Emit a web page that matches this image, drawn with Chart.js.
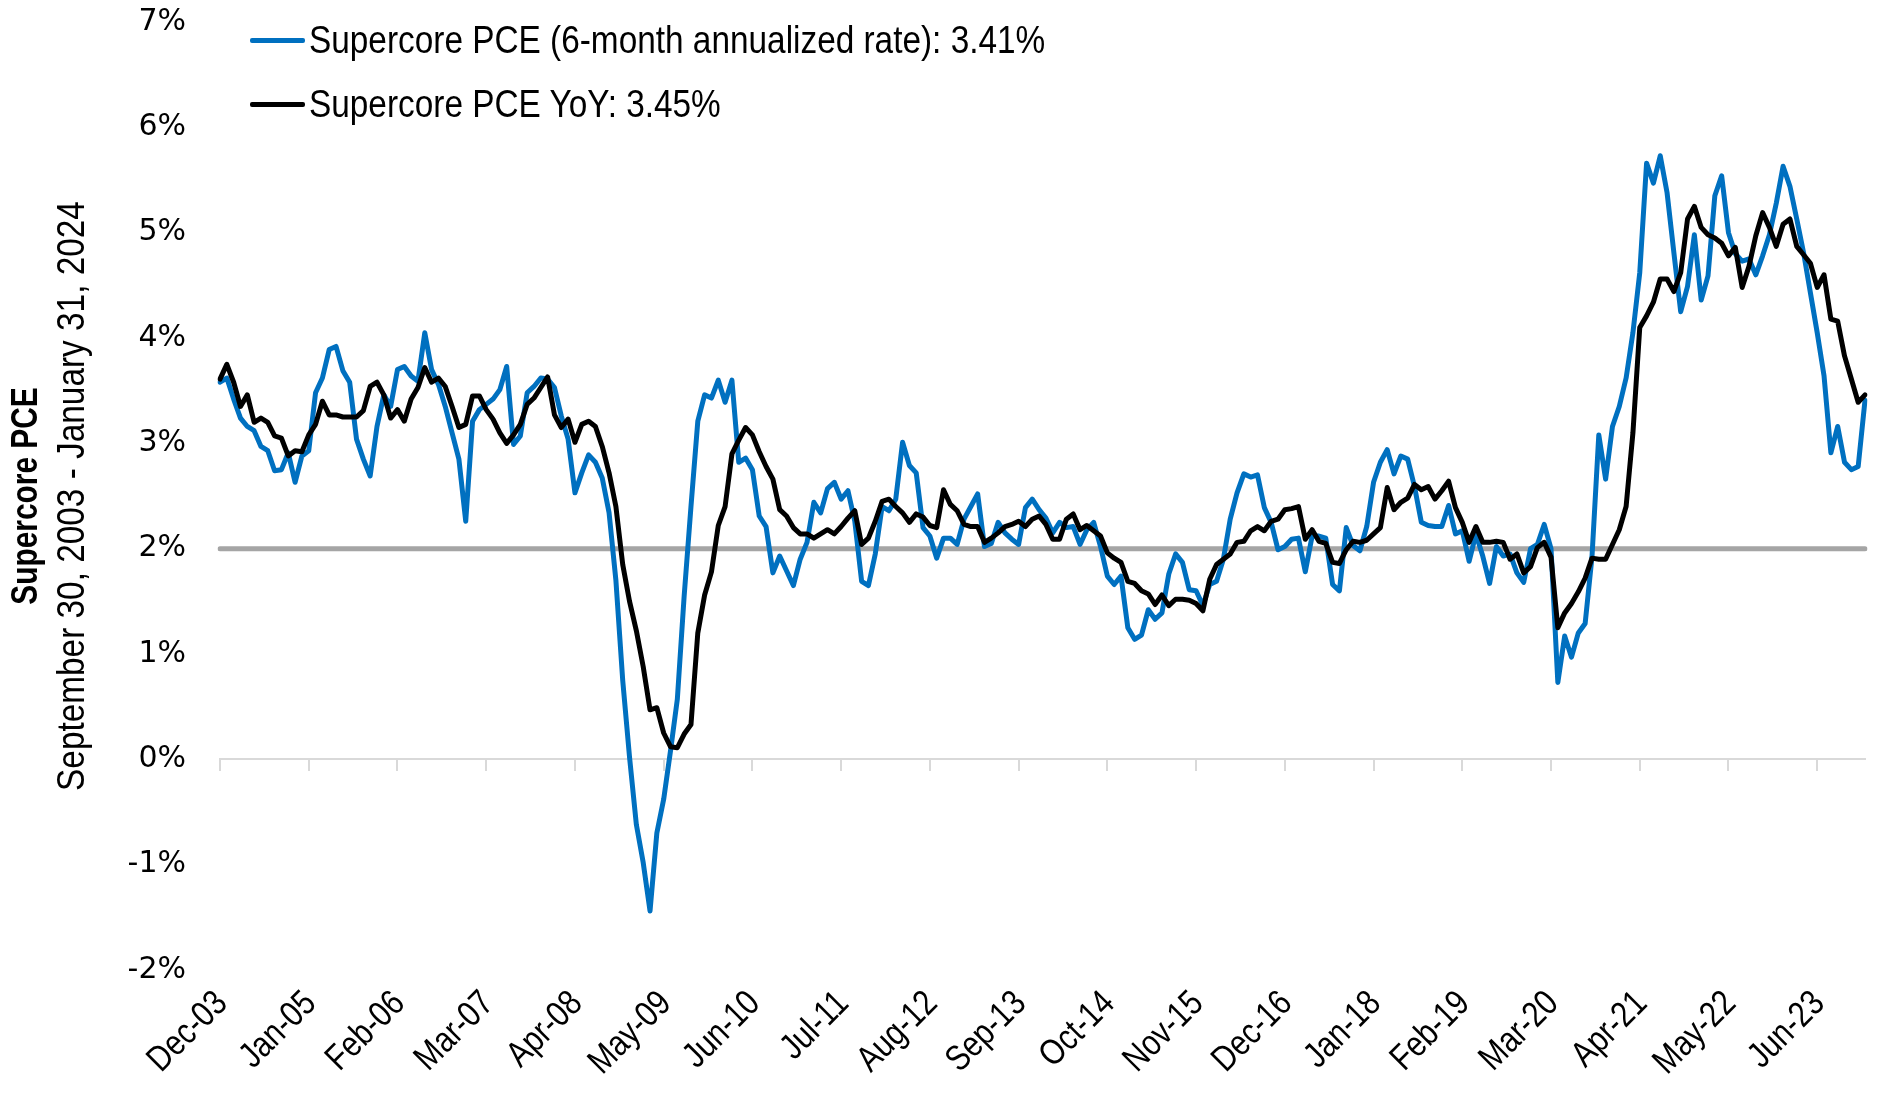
<!DOCTYPE html>
<html>
<head>
<meta charset="utf-8">
<title>Supercore PCE</title>
<script src="https://cdn.jsdelivr.net/npm/chart.js@4.4.1/dist/chart.umd.min.js"></script>
<style>
  html, body { margin: 0; padding: 0; background: #fff; }
  #wrap { position: relative; width: 1883px; height: 1103px; }
  #legend { position: absolute; left: 250px; top: 0; font-family: "Liberation Sans", sans-serif; font-size: 38px; color: #000; }
  .item { position: absolute; left: 0; display: flex; align-items: center; white-space: nowrap; height: 50px; }
  .swatch { width: 55px; height: 5px; margin-right: 4px; border-radius: 2px; flex: none; }
  .txt { display: inline-block; transform: scaleX(0.878); transform-origin: left center; }
</style>
</head>
<body>
<div id="wrap">
  <canvas id="chart" width="1883" height="1103"></canvas>
  <div id="legend"></div>
</div>
<script>
// ---- data (monthly, Dec-03 .. Jan-24), one line per calendar year ----
const sixMonthAnnualized = [
  3.58,
  3.62, 3.42, 3.24, 3.16, 3.12, 2.97, 2.93, 2.74, 2.75, 2.91, 2.63, 2.88,
  2.93, 3.48, 3.62, 3.89, 3.92, 3.69, 3.58, 3.04, 2.85, 2.69, 3.16, 3.46,
  3.35, 3.70, 3.73, 3.64, 3.59, 4.05, 3.70, 3.56, 3.35, 3.10, 2.85, 2.26,
  3.21, 3.32, 3.37, 3.42, 3.51, 3.73, 2.99, 3.07, 3.48, 3.54, 3.62, 3.61,
  3.53, 3.26, 3.04, 2.53, 2.72, 2.89, 2.82, 2.67, 2.34, 1.70, 0.75, 0.02,
  -0.62, -0.98, -1.44, -0.70, -0.38, 0.08, 0.57, 1.55, 2.40, 3.21, 3.46, 3.43,
  3.60, 3.39, 3.60, 2.82, 2.86, 2.75, 2.31, 2.21, 1.77, 1.93, 1.79, 1.65,
  1.90, 2.06, 2.44, 2.34, 2.57, 2.63, 2.47, 2.55, 2.26, 1.69, 1.65, 1.95,
  2.40, 2.36, 2.47, 3.01, 2.79, 2.72, 2.20, 2.12, 1.91, 2.10, 2.10, 2.04,
  2.28, 2.40, 2.52, 2.02, 2.05, 2.25, 2.15, 2.09, 2.04, 2.39, 2.47, 2.37,
  2.29, 2.15, 2.25, 2.20, 2.21, 2.04, 2.18, 2.25, 2.02, 1.74, 1.66, 1.74,
  1.25, 1.14, 1.18, 1.42, 1.33, 1.39, 1.76, 1.95, 1.87, 1.61, 1.60, 1.46,
  1.66, 1.69, 1.90, 2.28, 2.53, 2.71, 2.68, 2.70, 2.39, 2.25, 1.99, 2.02,
  2.09, 2.10, 1.78, 2.12, 2.12, 2.10, 1.66, 1.60, 2.20, 2.03, 1.98, 2.21,
  2.63, 2.82, 2.94, 2.71, 2.88, 2.85, 2.59, 2.25, 2.22, 2.21, 2.21, 2.41,
  2.14, 2.17, 1.88, 2.14, 1.93, 1.67, 2.02, 1.93, 1.95, 1.77, 1.68, 2.00,
  2.04, 2.23, 2.00, 0.73, 1.17, 0.97, 1.20, 1.29, 1.92, 3.08, 2.66, 3.16,
  3.35, 3.62, 4.05, 4.62, 5.66, 5.47, 5.73, 5.38, 4.81, 4.25, 4.49, 4.98,
  4.36, 4.59, 5.35, 5.54, 5.00, 4.80, 4.73, 4.75, 4.60, 4.78, 4.98, 5.28,
  5.63, 5.44, 5.13, 4.81, 4.43, 4.05, 3.64, 2.91, 3.16, 2.82, 2.75, 2.78,
  3.41
];

const yearOverYear = [
  3.61,
  3.75, 3.58, 3.35, 3.46, 3.20, 3.24, 3.20, 3.07, 3.05, 2.88, 2.93, 2.92,
  3.08, 3.18, 3.40, 3.27, 3.27, 3.25, 3.25, 3.25, 3.31, 3.54, 3.58, 3.46,
  3.24, 3.32, 3.21, 3.42, 3.53, 3.72, 3.58, 3.62, 3.54, 3.35, 3.15, 3.18,
  3.45, 3.45, 3.32, 3.23, 3.10, 3.00, 3.08, 3.18, 3.37, 3.43, 3.53, 3.63,
  3.27, 3.15, 3.23, 3.01, 3.18, 3.21, 3.16, 2.97, 2.72, 2.40, 1.85, 1.50,
  1.22, 0.88, 0.47, 0.49, 0.25, 0.12, 0.11, 0.24, 0.33, 1.20, 1.56, 1.78,
  2.22, 2.40, 2.90, 3.03, 3.15, 3.08, 2.92, 2.78, 2.66, 2.37, 2.31, 2.20,
  2.14, 2.14, 2.10, 2.14, 2.18, 2.14, 2.21, 2.29, 2.36, 2.04, 2.10, 2.26,
  2.45, 2.47, 2.40, 2.34, 2.25, 2.33, 2.30, 2.22, 2.20, 2.56, 2.42, 2.36,
  2.23, 2.21, 2.21, 2.06, 2.10, 2.15, 2.21, 2.23, 2.26, 2.21, 2.28, 2.31,
  2.23, 2.09, 2.09, 2.28, 2.33, 2.18, 2.22, 2.17, 2.12, 1.96, 1.91, 1.87,
  1.69, 1.67, 1.60, 1.57, 1.47, 1.56, 1.46, 1.52, 1.52, 1.51, 1.48, 1.41,
  1.71, 1.85, 1.90, 1.95, 2.06, 2.07, 2.17, 2.21, 2.17, 2.26, 2.28, 2.37,
  2.38, 2.40, 2.09, 2.18, 2.07, 2.05, 1.87, 1.86, 1.99, 2.07, 2.06, 2.08,
  2.14, 2.20, 2.58, 2.37, 2.44, 2.48, 2.61, 2.56, 2.59, 2.47, 2.55, 2.64,
  2.39, 2.25, 2.06, 2.21, 2.06, 2.06, 2.07, 2.06, 1.90, 1.95, 1.77, 1.83,
  2.01, 2.06, 1.92, 1.25, 1.39, 1.48, 1.59, 1.72, 1.91, 1.90, 1.90, 2.04,
  2.18, 2.40, 3.10, 4.10, 4.21, 4.34, 4.56, 4.56, 4.44, 4.62, 5.13, 5.25,
  5.05, 4.98, 4.95, 4.90, 4.78, 4.86, 4.48, 4.68, 4.97, 5.19, 5.05, 4.87,
  5.08, 5.13, 4.87, 4.79, 4.71, 4.48, 4.60, 4.18, 4.16, 3.83, 3.61, 3.39,
  3.46
];

const tickLabels = ["Dec-03", "Jan-05", "Feb-06", "Mar-07", "Apr-08", "May-09", "Jun-10",
  "Jul-11", "Aug-12", "Sep-13", "Oct-14", "Nov-15", "Dec-16", "Jan-18", "Feb-19",
  "Mar-20", "Apr-21", "May-22", "Jun-23"];

const targetRate = 2;
const seriesNames = ["Supercore PCE (6-month annualized rate): 3.41%", "Supercore PCE YoY: 3.45%"];
const yTitleMain = "Supercore PCE";
const yTitleSub = "September 30, 2003 - January 31, 2024";

// month categories Dec-03 .. Jan-24
const monthNames = ["Jan","Feb","Mar","Apr","May","Jun","Jul","Aug","Sep","Oct","Nov","Dec"];
const labels = [];
for (let i = 0; i < yearOverYear.length; i++) {
  const m = (11 + i) % 12;
  const y = 2003 + Math.floor((11 + i) / 12);
  labels.push(monthNames[m] + "-" + String(y % 100).padStart(2, "0"));
}

const SANS = '"Liberation Sans", sans-serif';

// y-axis title: two lines, bold + regular, squeezed a little to look like a narrow face
const yTitlePlugin = {
  id: "yTitle",
  afterDraw(chart) {
    const { ctx, chartArea } = chart;
    const cy = (chartArea.top + chartArea.bottom) / 2;
    ctx.save();
    ctx.fillStyle = "#000";
    ctx.textAlign = "center";
    ctx.textBaseline = "middle";
    ctx.translate(27, cy);
    ctx.rotate(-Math.PI / 2);
    ctx.save();
    ctx.scale(0.83, 1);
    ctx.font = "bold 36px " + SANS;
    ctx.fillText(yTitleMain, 0, 0);
    ctx.restore();
    ctx.scale(0.878, 1);
    ctx.font = "38px " + SANS;
    ctx.fillText(yTitleSub, 0, 47);
    ctx.restore();
  }
};

// x tick labels, 45 degrees, placed through the x scale
const xLabelPlugin = {
  id: "xLabels",
  afterDraw(chart) {
    const { ctx, chartArea } = chart;
    const xs = chart.scales.x;
    ctx.save();
    ctx.fillStyle = "#000";
    ctx.font = "36px " + SANS;
    ctx.textAlign = "right";
    ctx.textBaseline = "middle";
    tickLabels.forEach((l) => {
      const px = xs.getPixelForValue(labels.indexOf(l));
      ctx.save();
      ctx.translate(px + 2, chartArea.bottom + 28);
      ctx.rotate(-Math.PI / 4);
      ctx.scale(0.83, 1);
      ctx.fillText(l, 0, 0);
      ctx.restore();
    });
    ctx.restore();
  }
};

const chart = new Chart(document.getElementById("chart").getContext("2d"), {
  type: "line",
  data: {
    labels: labels,
    datasets: [
      {
        label: seriesNames[0],
        data: sixMonthAnnualized,
        borderColor: "#0070C0",
        borderWidth: 5,
        order: 2
      },
      {
        label: seriesNames[1],
        data: yearOverYear,
        borderColor: "#000000",
        borderWidth: 5,
        order: 1
      },
      {
        label: "2%",
        data: [{ x: labels[0], y: targetRate }, { x: labels[labels.length - 1], y: targetRate }],
        borderColor: "#A5A5A5",
        borderWidth: 5,
        borderCapStyle: "round",
        order: 3
      }
    ]
  },
  options: {
    responsive: false,
    animation: false,
    devicePixelRatio: 1,
    layout: { padding: { left: 0, right: 18, top: 22, bottom: 0 } },
    elements: {
      point: { radius: 0 },
      line: { tension: 0, borderJoinStyle: "round", borderCapStyle: "round", fill: false }
    },
    plugins: {
      legend: { display: false },
      tooltip: { enabled: false }
    },
    scales: {
      x: {
        type: "category",
        offset: false,
        grid: { display: false },
        border: { display: false },
        ticks: { display: false },
        afterFit(scale) { scale.height = 133; }
      },
      x2: {
        type: "category",
        axis: "x",
        offset: false,
        position: { y: 0 },
        border: { display: true, color: "#D9D9D9", width: 2 },
        grid: {
          drawOnChartArea: false,
          drawTicks: true,
          tickLength: 11,
          lineWidth: 2,
          color: (c) => tickLabels.includes(labels[c.index]) ? "#D9D9D9" : "rgba(0,0,0,0)"
        },
        ticks: { display: false, autoSkip: false }
      },
      y: {
        min: -2,
        max: 7,
        grid: { display: false, drawTicks: true, tickLength: 34 },
        border: { display: false },
        ticks: {
          stepSize: 1,
          padding: 0,
          color: "#000",
          font: { family: "DejaVu Sans", size: 30 },
          callback: (v) => v + "%"
        },
        afterFit(scale) { scale.width = 220; }
      }
    }
  },
  plugins: [yTitlePlugin, xLabelPlugin]
});

// legend (HTML, built from the chart datasets)
const legendEl = document.getElementById("legend");
[0, 1].forEach((di, k) => {
  const ds = chart.data.datasets[di];
  const item = document.createElement("div");
  item.className = "item";
  item.style.top = (15 + k * 64) + "px";
  const sw = document.createElement("span");
  sw.className = "swatch";
  sw.style.background = ds.borderColor;
  const tx = document.createElement("span");
  tx.className = "txt";
  tx.textContent = ds.label;
  item.appendChild(sw);
  item.appendChild(tx);
  legendEl.appendChild(item);
});
</script>
</body>
</html>
